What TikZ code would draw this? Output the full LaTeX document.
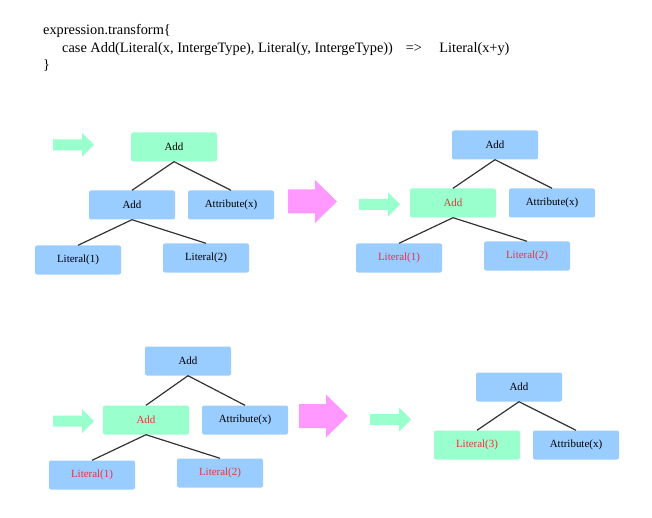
\documentclass[tikz,border=0pt]{standalone}
\usepackage{fontspec}
\setmainfont{Liberation Serif}
\definecolor{boxblue}{HTML}{99CCFF}
\definecolor{boxgreen}{HTML}{99FFCC}
\definecolor{arrowpink}{HTML}{FF99FF}
\definecolor{textred}{HTML}{F0303C}
\definecolor{edgegray}{HTML}{333333}
\tikzset{
  blue box/.style={fill=boxblue,rounded corners=2bp,minimum width=86bp,minimum height=29bp,inner sep=0pt,font=\fontsize{11}{13}\selectfont},
  green box/.style={blue box,fill=boxgreen},
  edge/.style={draw=edgegray,line width=1.2bp},
  code line/.style={anchor=base west,inner sep=0pt,font=\fontsize{14.4}{17}\selectfont},
  pics/smallarrow/.style={code={\fill[boxgreen] (0,-5.5) -- (29,-5.5) -- (29,-12) -- (41,0) -- (29,12) -- (29,5.5) -- (0,5.5) -- cycle;}},
  pics/bigarrow/.style={code={\fill[arrowpink] (0,-12) -- (27,-12) -- (27,-21.5) -- (49,0) -- (27,21.5) -- (27,12) -- (0,12) -- cycle;}},
}
\begin{document}
\begin{tikzpicture}[x=1bp,y=-1bp]
    \useasboundingbox (0,0) rectangle (652,518);
    %% rule
    \node (l1) at (43,35) [code line] {expression.transform\{};
    \node (l2) at (62,52.5) [code line] {case Add(Literal(x, IntergeType), Literal(y, IntergeType))\hspace{0.9em}=>\hspace{1.2em}Literal(x+y)};
    \node (l3) at (43,70) [code line] {\}};
    %% step 1
    \pic at (53,145) {smallarrow};
    \node (a1) at (174,147) [green box] {Add};
    \node (b1) at (132,205) [blue box] {Add};
    \node (c1) at (231,205) [blue box] {Attribute(x)};
    \node (d1) at (78,260) [blue box] {Literal(1)};
    \node (e1) at (206,258) [blue box] {Literal(2)};
    \draw [edge] (a1.south) -- (b1.north);
    \draw [edge] (a1.south) -- (c1.north);
    \draw [edge] (b1.south) -- (d1.north);
    \draw [edge] (b1.south) -- (e1.north);
    \pic at (288,201.5) {bigarrow};
    %% step 2
    \pic at (359,204.5) {smallarrow};
    \node (a2) at (495,145) [blue box] {Add};
    \node (b2) at (453,203) [green box,text=textred] {Add};
    \node (c2) at (552,203) [blue box] {Attribute(x)};
    \node (d2) at (399,258) [blue box,text=textred] {Literal(1)};
    \node (e2) at (527,256) [blue box,text=textred] {Literal(2)};
    \draw [edge] (a2.south) -- (b2.north);
    \draw [edge] (a2.south) -- (c2.north);
    \draw [edge] (b2.south) -- (d2.north);
    \draw [edge] (b2.south) -- (e2.north);
    %% step 3
    \pic at (53,421) {smallarrow};
    \node (a3) at (188,361) [blue box] {Add};
    \node (b3) at (146,420) [green box,text=textred] {Add};
    \node (c3) at (245,420) [blue box] {Attribute(x)};
    \node (d3) at (92,475) [blue box,text=textred] {Literal(1)};
    \node (e3) at (220,473) [blue box,text=textred] {Literal(2)};
    \draw [edge] (a3.south) -- (b3.north);
    \draw [edge] (a3.south) -- (c3.north);
    \draw [edge] (b3.south) -- (d3.north);
    \draw [edge] (b3.south) -- (e3.north);
    \pic at (299,416) {bigarrow};
    %% step 4
    \pic at (370,419.5) {smallarrow};
    \node (a4) at (519,387) [blue box] {Add};
    \node (b4) at (477,445) [green box,text=textred] {Literal(3)};
    \node (c4) at (576,445) [blue box] {Attribute(x)};
    \draw [edge] (a4.south) -- (b4.north);
    \draw [edge] (a4.south) -- (c4.north);
    %
\end{tikzpicture}
\end{document}
